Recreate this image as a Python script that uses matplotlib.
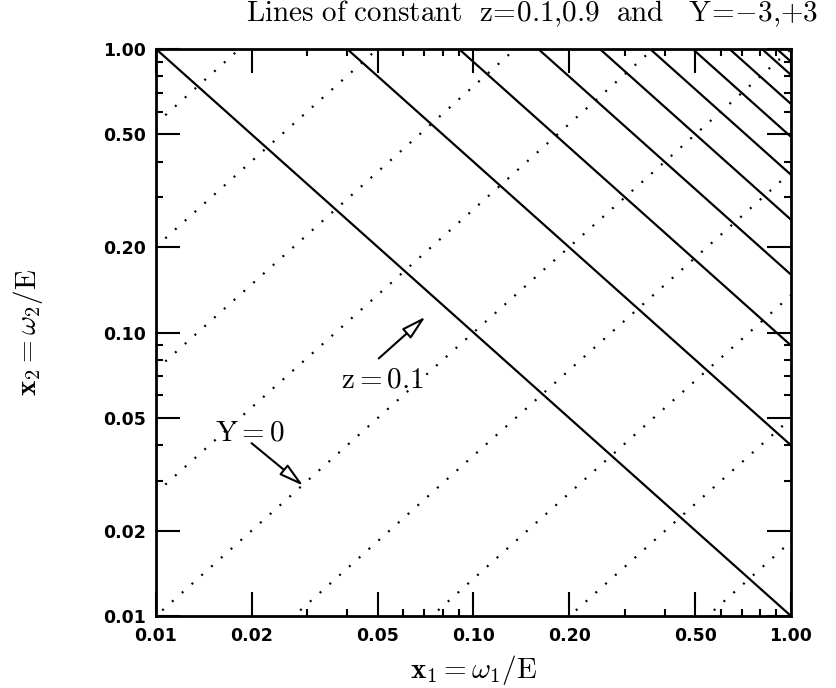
import numpy as np
import matplotlib
matplotlib.use("Agg")
import matplotlib.pyplot as plt

plt.rcParams['mathtext.fontset'] = 'cm'

# lines of constant z (x1*x2 = z^2) and constant Y (x2/x1 = exp(-2Y))
zVals = [0.1, 0.2, 0.3, 0.4, 0.5, 0.6, 0.7, 0.8, 0.9, 0.95]
yVals = [-3.0, -2.5, -2.0, -1.5, -1.0, -0.5, 0.0, 0.5, 1.0, 1.5, 2.0, 2.5, 3.0]

majorTicks = [0.01, 0.02, 0.05, 0.10, 0.20, 0.50, 1.00]
majorLabels = ['0.01', '0.02', '0.05', '0.10', '0.20', '0.50', '1.00']
minorTicks = [0.03, 0.04, 0.06, 0.07, 0.08, 0.09, 0.3, 0.4, 0.6, 0.7, 0.8, 0.9]

fig = plt.figure(figsize=(8.37, 6.88), dpi=100)
ax = fig.add_axes([156/837, 1-616/688, (791-156)/837, (616-49)/688])
ax.set_xscale('log')
ax.set_yscale('log')

#solid: constant z
for z in zVals:
  ax.plot([z**2, 1.0], [1.0, z**2], color='black', lw=1.6, solid_capstyle='butt')

#dotted: constant Y
for Y in yVals:
  x1 = np.array([0.001, 1.0])
  ax.plot(x1, x1*np.exp(-2*Y), color='black', lw=1.6, linestyle=(0, (0.9, 5.0)))

ax.set_xlim(0.01, 1.0)
ax.set_ylim(0.01, 1.0)

#annotations
arrowStyle = dict(arrowstyle='-|>,head_length=1.5,head_width=0.4', fc='white',
                  ec='black', lw=1.5, shrinkA=0, shrinkB=0)
ax.annotate('', xy=(0.0706, 0.1137), xytext=(0.0503, 0.081), arrowprops=arrowStyle)
ax.text(0.0515, 0.068, r'$\mathrm{z=0.1}$', fontsize=21, ha='center', va='center')
ax.annotate('', xy=(0.0291, 0.0288), xytext=(0.020, 0.0407), arrowprops=arrowStyle)
ax.text(0.0198, 0.0445, r'$\mathrm{Y=0}$', fontsize=21, ha='center', va='center')

ax.set_xticks(majorTicks)
ax.set_xticklabels(majorLabels)
ax.set_yticks(majorTicks)
ax.set_yticklabels(majorLabels)
ax.set_xticks(minorTicks, minor=True)
ax.set_yticks(minorTicks, minor=True)
ax.xaxis.set_minor_formatter(matplotlib.ticker.NullFormatter())
ax.yaxis.set_minor_formatter(matplotlib.ticker.NullFormatter())
ax.tick_params(which='both', direction='in', top=True, right=True, width=1.5)
ax.tick_params(which='major', length=17)
ax.tick_params(which='minor', length=5)
ax.tick_params(axis='x', which='major', pad=8)
ax.tick_params(axis='y', which='major', pad=7)
for lbl in ax.get_xticklabels() + ax.get_yticklabels():
  lbl.set_fontweight('bold')
  lbl.set_fontsize(12.5)
for sp in ax.spines.values():
  sp.set_linewidth(2.0)

ax.set_xlabel(r'$\mathbf{x}_1=\omega_1/\mathrm{E}$', fontsize=21, labelpad=6)
ax.set_ylabel(r'$\mathbf{x}_2=\omega_2/\mathrm{E}$', fontsize=21, labelpad=42)

fig.text(532/837, 1-14/688,
         r'$\mathrm{Lines\ of\ constant\ \ z\!=\!0.1{,}0.9\ \ and\ \ \ Y\!=\!{-}3{,}{+}3}$',
         fontsize=21, ha='center', va='center')

fig.savefig('out.png', dpi=100)
